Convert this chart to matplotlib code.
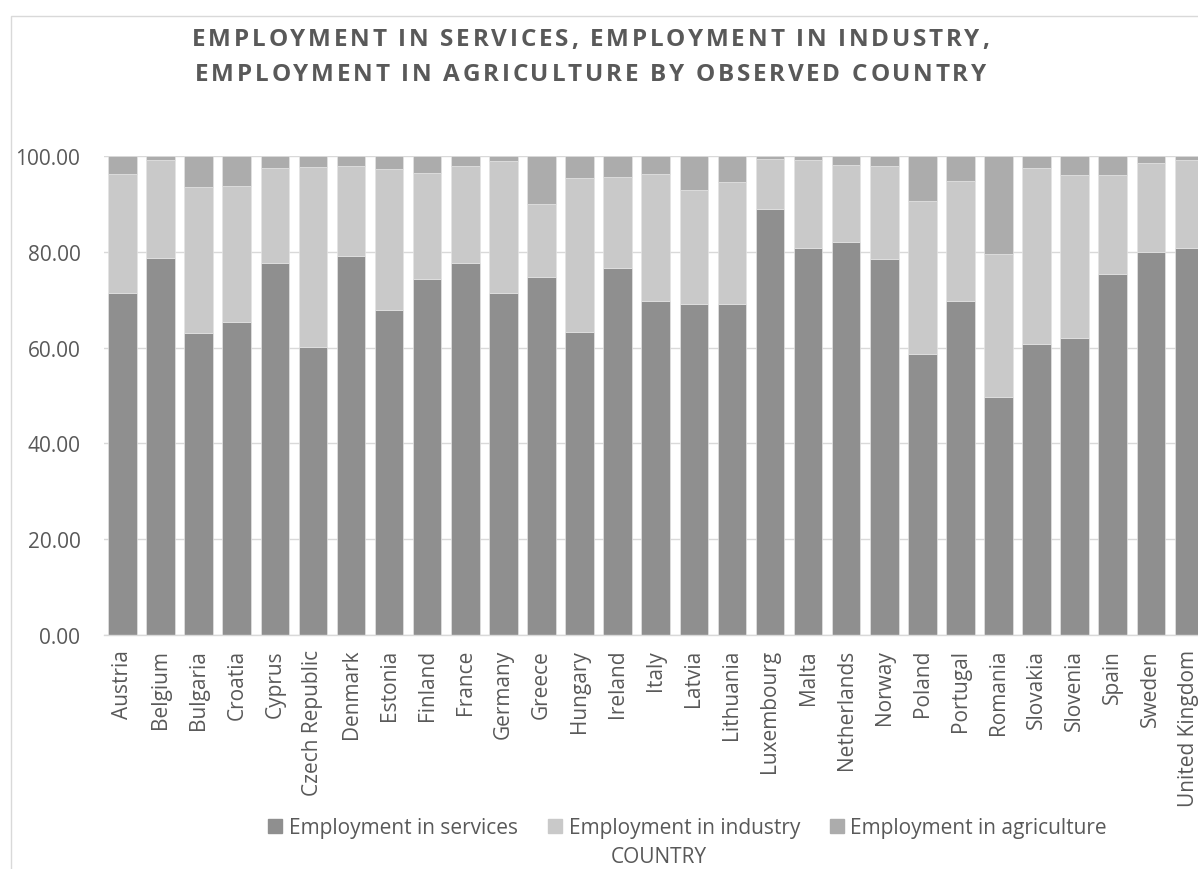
import matplotlib
matplotlib.use("Agg")
import matplotlib.pyplot as plt
from matplotlib.patches import Rectangle
from matplotlib.lines import Line2D
from matplotlib.font_manager import FontProperties, findfont
from matplotlib.ft2font import FT2Font
from matplotlib.transforms import IdentityTransform
import numpy as np

countries = ["Austria", "Belgium", "Bulgaria", "Croatia", "Cyprus", "Czech Republic",
             "Denmark", "Estonia", "Finland", "France", "Germany", "Greece", "Hungary",
             "Ireland", "Italy", "Latvia", "Lithuania", "Luxembourg", "Malta",
             "Netherlands", "Norway", "Poland", "Portugal", "Romania", "Slovakia",
             "Slovenia", "Spain", "Sweden", "United Kingdom"]
services = [71.3, 78.7, 63.1, 65.3, 77.7, 60.1, 79.1, 67.9, 74.4, 77.7, 71.5, 74.7, 63.3,
            76.7, 69.7, 69.2, 69.0, 88.9, 80.7, 82.0, 78.4, 58.7, 69.8, 49.7, 60.8,
            61.9, 75.4, 80.0, 80.8]
industry = [24.9, 20.5, 30.5, 28.4, 19.8, 37.5, 18.9, 29.4, 22.1, 20.2, 27.5, 15.2, 32.1,
            19.0, 26.5, 23.7, 25.5, 10.5, 18.5, 16.2, 19.6, 31.9, 25.0, 29.8, 36.7,
            34.1, 20.7, 18.5, 18.4]
agriculture = [3.8, 0.8, 6.4, 6.3, 2.5, 2.4, 2.0, 2.7, 3.5, 2.1, 1.0, 10.1, 4.6,
               4.3, 3.8, 7.1, 5.5, 0.6, 0.8, 1.8, 2.0, 9.4, 5.2, 20.5, 2.5,
               4.0, 3.9, 1.5, 0.8]
series_names = ["Employment in services", "Employment in industry", "Employment in agriculture"]
colors = ["#8f8f8f", "#c9c9c9", "#acacac"]
title_lines = ["EMPLOYMENT IN SERVICES, EMPLOYMENT IN INDUSTRY,",
               "EMPLOYMENT IN AGRICULTURE BY OBSERVED COUNTRY"]
xlabel = "COUNTRY"
yticks = [0, 20, 40, 60, 80, 100]

W, H = 1198, 870
DPI = 100
fig = plt.figure(figsize=(W / DPI, H / DPI), dpi=DPI)
font = "Open Sans"
txtc = "#595959"

# chart border
fig.patches.append(Rectangle((10.5 / W, -0.1), 1.2, 1 - 17 / H + 0.1, transform=fig.transFigure,
                             fill=False, edgecolor="#d9d9d9", linewidth=1.0))

ax = fig.add_axes([104 / W, 1 - 636 / H, (1208 - 104) / W, (636 - 157) / H])
x = np.arange(len(countries))
bottom = np.zeros(len(countries))
for vals, name, c in zip([services, industry, agriculture], series_names, colors):
    ax.bar(x, vals, bottom=bottom, width=0.75, color=c, edgecolor="#e3e3e3",
           linewidth=0.5, label=name, zorder=2)
    bottom = bottom + np.array(vals)

ax.set_xlim(-0.486, len(countries) - 0.5)
ax.set_ylim(0, 100)
ax.set_yticks(yticks)
ax.set_yticklabels([f"{v:.2f}" for v in yticks], fontsize=15, color=txtc, family=font)
ax.set_xticks(x)
ax.set_xticklabels(countries, rotation=90, fontsize=15, color=txtc, family=font)
ax.tick_params(length=0)
ax.tick_params(axis="x", pad=10)
ax.tick_params(axis="y", pad=17)
ax.grid(axis="y", color="#d9d9d9", linewidth=1.0, zorder=0)
ax.set_axisbelow(True)
for s in ["top", "right", "left"]:
    ax.spines[s].set_visible(False)
ax.spines["bottom"].set_color("#d9d9d9")
ax.spines["bottom"].set_linewidth(1.0)

# title with slight letter spacing (drawn char by char)
tsize = 17.5
tprops = FontProperties(family="Open Sans", weight="bold", size=tsize)
ft = FT2Font(findfont(tprops))
ft.set_size(tsize, DPI)
def adv(ch):
    g = ft.load_char(ord(ch))
    return g.linearHoriAdvance / 65536.0
ref_part = "EMPLOYMENT IN AGRICULTURE"
ref_width = 443.0
tracking = max(0.0, (ref_width - sum(adv(c) for c in ref_part)) / (len(ref_part) - 1))
line2_total = sum(adv(c) for c in title_lines[1]) + tracking * (len(title_lines[1]) - 1)
cx = 195 + line2_total / 2
for line, base_y in zip(title_lines, [46, 81]):
    widths = [adv(ch) for ch in line]
    total = sum(widths) + tracking * (len(line) - 1)
    xpos = cx - total / 2
    for ch, w in zip(line, widths):
        fig.text(xpos, H - base_y, ch, transform=IdentityTransform(), ha="left",
                 va="baseline", fontproperties=tprops, color=txtc)
        xpos += w + tracking

handles = [Line2D([], [], marker="s", linestyle="none", markersize=10, color=c) for c in colors]
fig.legend(handles, series_names, loc="center", bbox_to_anchor=(686 / W, 1 - 829 / H),
           ncol=3, frameon=False, prop={"family": font, "size": 15}, labelcolor=txtc,
           handletextpad=0.17, columnspacing=1.25, handlelength=1.0)
fig.text(659 / W, 1 - 858 / H, xlabel, ha="center", va="center", fontsize=15,
         color=txtc, family=font)

fig.savefig("out.png", dpi=DPI)
